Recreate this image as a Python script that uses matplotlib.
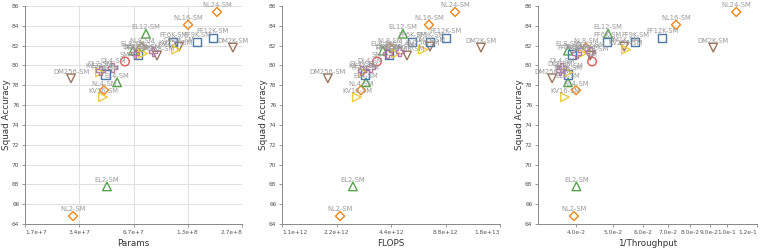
import matplotlib
matplotlib.use("Agg")
import matplotlib.pyplot as plt
from matplotlib.ticker import FixedLocator, NullLocator, FuncFormatter
import math

# ---------------- data ----------------
models = ["SM", "NL2-SM", "NL4-SM", "NL8-SM", "NL16-SM", "NL24-SM",
          "EL2-SM", "EL4-SM", "EL8-SM", "EL12-SM",
          "DM256-SM", "DM768-SM", "DM1K-SM", "DM2K-SM",
          "FF1K-SM", "FF3K-SM", "FF6K-SM", "FF9K-SM", "FF12K-SM",
          "KV16-SM", "KV32-SM", "KV128-SM", "KV256-SM",
          "DL2-SM", "DL4-SM", "DL8-SM", "DL12-SM"]
family = ["SM", "NL", "NL", "NL", "NL", "NL",
          "EL", "EL", "EL", "EL",
          "DM", "DM", "DM", "DM",
          "FF", "FF", "FF", "FF", "FF",
          "KV", "KV", "KV", "KV",
          "DL", "DL", "DL", "DL"]
accuracy = [80.4, 64.8, 77.5, 81.8, 84.1, 85.4,
            67.8, 78.3, 81.5, 83.2,
            78.7, 81.0, 81.9, 81.8,
            79.1, 81.1, 82.4, 82.4, 82.8,
            76.8, 79.3, 81.2, 81.6,
            79.5, 79.8, 81.2, 81.4]
params = [6.02e7, 3.10e7, 4.60e7, 7.48e7, 1.347e8, 1.95e8,
          4.78e7, 5.44e7, 6.67e7, 7.87e7,
          3.02e7, 9.06e7, 1.20e8, 2.39e8,
          4.70e7, 7.11e7, 1.112e8, 1.51e8, 1.853e8,
          4.55e7, 4.37e7, 7.58e7, 1.155e8,
          4.40e7, 5.16e7, 6.84e7, 8.61e7]
flops = [3.68e12, 2.30e12, 3.00e12, 4.34e12, 7.13e12, 9.93e12,
         2.71e12, 3.20e12, 3.97e12, 5.12e12,
         1.97e12, 5.39e12, 7.22e12, 1.381e13,
         3.16e12, 4.30e12, 5.74e12, 7.22e12, 8.85e12,
         2.85e12, 3.08e12, 4.69e12, 6.61e12,
         3.04e12, 3.37e12, 4.23e12, 4.93e12]
inv_throughput = [0.0441, 0.0395, 0.0400, 0.0425, 0.0734, 0.1058,
                  0.0401, 0.0381, 0.0381, 0.0486,
                  0.0346, 0.0436, 0.0536, 0.0920,
                  0.0381, 0.0390, 0.0483, 0.0572, 0.0675,
                  0.0374, 0.0381, 0.0415, 0.0542,
                  0.0363, 0.0367, 0.0401, 0.0436]

params_ticks = [2**24, 2**25, 2**26, 2**27, 2**28]
flops_ticks = [2**40, 2**41, 2**42, 2**43, 2**44]
thr_ticks = [0.04, 0.05, 0.06, 0.07, 0.08, 0.09, 0.10, 0.12]
y_ticks = [64, 66, 68, 70, 72, 74, 76, 78, 80, 82, 84, 86]

# ---------------- styles ----------------
styles = {
    "SM": ("o", "#e45756", 6.2),
    "NL": ("D", "#f58518", 4.6),
    "EL": ("^", "#54a24b", 6.2),
    "DM": ("v", "#9d755d", 6.2),
    "FF": ("s", "#4c78a8", 6.0),
    "KV": (">", "#eeca3b", 6.2),
    "DL": ("P", "#b279a2", 6.4),
}


def sci(v, pos=None):
    e = int(math.floor(math.log10(v) + 1e-9))
    m = v / 10**e
    return f"{m:.1f}e{e:+d}"


W, H = 761, 248
fig = plt.figure(figsize=(W / 100, H / 100), dpi=100)

panels = [
    (params, "Params", 25, 217, (2**24, 2**28), 2, params_ticks, True),
    (flops, "FLOPS", 282, 218, (2**40, 2**44), 2, flops_ticks, False),
    (inv_throughput, "1/Throughput", 538, 219, (0.03176, 0.12), 10, thr_ticks, False),
]
top_px, bot_px = 6, 224

for xs, xlabel, left, width, xlim, base, xt, grid in panels:
    ax = fig.add_axes([left / W, (H - bot_px) / H, width / W, (bot_px - top_px) / H])
    ax.set_xscale("log", base=base)
    ax.set_xlim(*xlim)
    ax.set_ylim(64, 86)
    ax.xaxis.set_major_locator(FixedLocator(xt))
    ax.xaxis.set_minor_locator(NullLocator())
    ax.xaxis.set_major_formatter(FuncFormatter(sci))
    ax.yaxis.set_major_locator(FixedLocator(y_ticks))
    ax.yaxis.set_minor_locator(NullLocator())
    for s in ["top", "right"]:
        ax.spines[s].set_visible(False)
    for s in ["left", "bottom"]:
        ax.spines[s].set_color("#888888")
        ax.spines[s].set_linewidth(0.7)
    ax.tick_params(axis="both", length=2.5, width=0.6, color="#888888",
                   labelsize=4.2, labelcolor="#555555", pad=1.5)
    if grid:
        ax.grid(True, color="#e0e0e0", linewidth=0.7)
        ax.set_axisbelow(True)
    # flush first/last labels
    fig.canvas.draw()
    labels = ax.get_xticklabels()
    for tv, lab in zip(xt, labels):
        if abs(math.log(tv) - math.log(xlim[0])) < 1e-3:
            lab.set_horizontalalignment("left")
        elif abs(math.log(tv) - math.log(xlim[1])) < 1e-3:
            lab.set_horizontalalignment("right")

    for name, fam, x, y in zip(models, family, xs, accuracy):
        mk, col, ms = styles[fam]
        ax.scatter([x], [y], marker=mk, s=ms**2, facecolors="none",
                   edgecolors=col, linewidths=1.0, zorder=3, clip_on=False)
    for name, x, y in zip(models, xs, accuracy):
        ax.annotate(name, (x, y), xytext=(0, 2.6), textcoords="offset points",
                    ha="center", va="bottom", fontsize=4.9, color="#999999",
                    zorder=4, annotation_clip=False)

    ax.set_xlabel(xlabel, fontsize=6.3, color="#333333", labelpad=3)
    ax.set_ylabel("Squad Accuracy", fontsize=6.3, color="#333333",
                  va="center")
    ax.yaxis.set_label_coords(-18 / width, 0.5)

fig.savefig("out.png", dpi=100)
